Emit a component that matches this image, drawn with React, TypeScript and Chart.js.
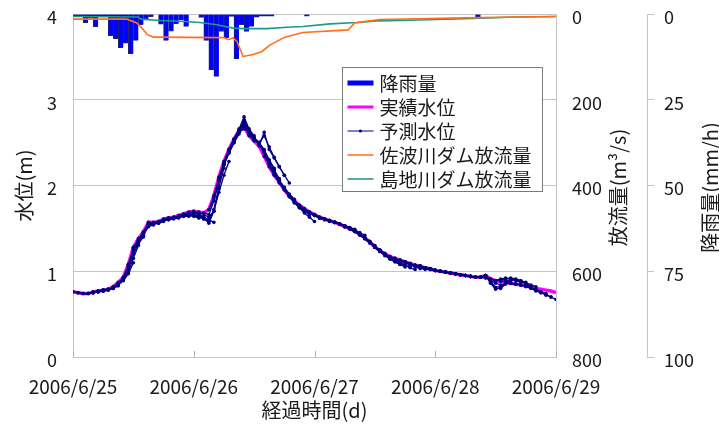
import React, { useEffect, useRef } from "react";
import { Chart, registerables } from "chart.js";

Chart.register(...registerables);

const FONT = '"Noto Sans CJK JP", "Noto Sans", sans-serif';
const TEXT = "#1a1a1a";
const GRID = "#c4c4c4";

// ---- labels ----
const xTickLabels = ["2006/6/25", "2006/6/26", "2006/6/27", "2006/6/28", "2006/6/29"];
const seriesNames = ["降雨量", "実績水位", "予測水位", "佐波川ダム放流量", "島地川ダム放流量"];
const xTitle = "経過時間(d)";
const levelTitle = "水位(m)";
const dischargeTitle = "放流量(m³/s)";
const rainTitle = "降雨量(mm/h)";

// ---- rainfall (mm/h), one bar per hour starting at 2006/6/25 0:00 ----
const rainfall = [
  0.7, 0.7, 2.5, 1.2, 3.7, 0.6, 0.6, 6.3, 7.2, 9.8, 8.5, 11.6, 7.7, 3.1, 1.7, 0.8,
  0, 3.0, 7.7, 5.0, 2.8, 1.7, 3.6, 0, 0, 1.0, 7.7, 16.3, 18.2, 5.1, 6.9, 0.7,
  13.0, 3.1, 5.1, 3.6, 0.9, 0.6, 0.6, 0.6, 0, 0, 0, 0, 0, 0, 0.6, 0,
  0, 0, 0, 0, 0, 0, 0, 0, 0, 0, 0, 0, 0, 0, 0, 0,
  0, 0, 0, 0, 0, 0, 0, 0, 0, 0, 0, 0, 0, 0, 0, 0,
  1.0, 0, 0, 0, 0, 0, 0, 0, 0, 0, 0, 0, 0, 0, 0, 0,
];

// ---- observed water level (m), hourly 0..96 ----
const actualLevel = [
  0.76, 0.75, 0.74, 0.74, 0.76, 0.77, 0.78, 0.79, 0.82, 0.87, 0.93, 1.08, 1.28, 1.38, 1.46, 1.57,
  1.57, 1.58, 1.61, 1.62, 1.63, 1.65, 1.67, 1.69, 1.70, 1.69, 1.68, 1.72, 1.88, 2.10, 2.28, 2.42,
  2.54, 2.64, 2.68, 2.58, 2.52, 2.46, 2.34, 2.22, 2.12, 2.04, 1.95, 1.88, 1.82, 1.77, 1.73, 1.69,
  1.66, 1.63, 1.61, 1.59, 1.57, 1.55, 1.52, 1.50, 1.47, 1.43, 1.39, 1.34, 1.28, 1.24, 1.20, 1.17,
  1.15, 1.13, 1.11, 1.09, 1.07, 1.06, 1.04, 1.03, 1.01, 1.00, 0.99, 0.98, 0.97, 0.96, 0.95, 0.94,
  0.93, 0.93, 0.95, 0.91, 0.89, 0.88, 0.87, 0.86, 0.85, 0.84, 0.83, 0.82, 0.80, 0.79, 0.78, 0.77,
  0.75,
];

// ---- forecast runs: start hour and hourly predicted levels (m) ----
const forecastStart = [
  0, 1, 2, 3, 4, 5, 6, 7, 8, 9, 10, 11, 12, 13, 14, 15, 16, 17, 18, 19, 20, 21, 22, 23, 24, 25,
  26, 27, 28, 29, 30, 31, 32, 33, 34, 35, 36, 37, 38, 39, 40, 41, 42, 43, 44, 45, 46, 47, 48, 49,
  50, 51, 52, 53, 54, 55, 56, 57, 58, 59, 60, 61, 62, 63, 64, 65, 66, 67, 68, 69, 70, 71, 72, 73,
  74, 75, 76, 77, 78, 79, 80, 81, 82, 83, 84, 85, 86, 87, 88, 89, 90,
];
const forecastLevels = [
  [0.76, 0.75, 0.74, 0.74, 0.75, 0.76, 0.77],
  [0.75, 0.74, 0.74, 0.75, 0.76, 0.77, 0.78],
  [0.74, 0.74, 0.75, 0.76, 0.77, 0.78, 0.80],
  [0.74, 0.75, 0.76, 0.77, 0.78, 0.80, 0.83],
  [0.76, 0.77, 0.78, 0.79, 0.81, 0.85, 0.90],
  [0.77, 0.78, 0.79, 0.81, 0.85, 0.90, 1.00],
  [0.78, 0.79, 0.81, 0.84, 0.89, 0.97, 1.10],
  [0.79, 0.81, 0.85, 0.90, 0.99, 1.15, 1.30],
  [0.82, 0.86, 0.91, 1.02, 1.20, 1.32, 1.40],
  [0.87, 0.92, 1.05, 1.24, 1.35, 1.44, 1.53],
  [0.93, 1.06, 1.24, 1.34, 1.42, 1.52, 1.54],
  [1.08, 1.26, 1.36, 1.45, 1.55, 1.55, 1.56],
  [1.28, 1.36, 1.44, 1.54, 1.55, 1.56, 1.58],
  [1.38, 1.45, 1.55, 1.56, 1.57, 1.59, 1.60],
  [1.46, 1.55, 1.56, 1.57, 1.60, 1.61, 1.62],
  [1.57, 1.56, 1.57, 1.59, 1.60, 1.61, 1.62],
  [1.57, 1.58, 1.60, 1.61, 1.62, 1.63, 1.64],
  [1.58, 1.60, 1.61, 1.62, 1.63, 1.64, 1.64],
  [1.61, 1.62, 1.63, 1.64, 1.65, 1.66, 1.66],
  [1.62, 1.63, 1.64, 1.65, 1.65, 1.64, 1.62],
  [1.63, 1.64, 1.65, 1.66, 1.65, 1.63, 1.61],
  [1.65, 1.66, 1.67, 1.66, 1.64, 1.61, 1.58],
  [1.67, 1.68, 1.68, 1.66, 1.63, 1.60, 1.57],
  [1.69, 1.69, 1.66, 1.62, 1.56, 1.70, 1.96],
  [1.70, 1.67, 1.62, 1.58, 1.72, 1.98, 2.20],
  [1.69, 1.66, 1.63, 1.70, 1.92, 2.12, 2.28],
  [1.68, 1.66, 1.82, 2.05, 2.24, 2.38, 2.50],
  [1.72, 1.86, 2.06, 2.24, 2.38, 2.50, 2.60],
  [1.88, 2.08, 2.26, 2.40, 2.52, 2.62, 2.66],
  [2.10, 2.26, 2.40, 2.52, 2.62, 2.72, 2.62],
  [2.28, 2.42, 2.54, 2.66, 2.80, 2.66, 2.58],
  [2.42, 2.54, 2.64, 2.76, 2.64, 2.56, 2.48],
  [2.54, 2.64, 2.74, 2.62, 2.56, 2.50, 2.40],
  [2.64, 2.70, 2.60, 2.54, 2.48, 2.38, 2.26],
  [2.68, 2.60, 2.55, 2.50, 2.42, 2.30, 2.20],
  [2.58, 2.53, 2.50, 2.40, 2.28, 2.18, 2.08],
  [2.52, 2.50, 2.58, 2.45, 2.33, 2.22, 2.12],
  [2.46, 2.62, 2.42, 2.32, 2.22, 2.12, 2.03],
  [2.34, 2.25, 2.15, 2.06, 1.98, 1.90, 1.84],
  [2.22, 2.13, 2.04, 1.96, 1.88, 1.81, 1.75],
  [2.12, 2.03, 1.95, 1.87, 1.80, 1.74, 1.69],
  [2.04, 1.96, 1.88, 1.81, 1.75, 1.70, 1.66],
  [1.95, 1.87, 1.80, 1.74, 1.68, 1.63, 1.58],
  [1.88, 1.82, 1.77, 1.72, 1.68, 1.65, 1.62],
  [1.82, 1.77, 1.72, 1.68, 1.65, 1.62, 1.60],
  [1.77, 1.72, 1.68, 1.65, 1.62, 1.60, 1.58],
  [1.73, 1.69, 1.66, 1.63, 1.61, 1.59, 1.57],
  [1.69, 1.66, 1.63, 1.61, 1.59, 1.57, 1.55],
  [1.66, 1.63, 1.61, 1.59, 1.57, 1.55, 1.53],
  [1.63, 1.61, 1.59, 1.57, 1.55, 1.53, 1.51],
  [1.61, 1.59, 1.57, 1.55, 1.53, 1.51, 1.49],
  [1.59, 1.57, 1.55, 1.52, 1.50, 1.47, 1.44],
  [1.57, 1.55, 1.53, 1.50, 1.48, 1.45, 1.42],
  [1.55, 1.52, 1.49, 1.46, 1.42, 1.38, 1.33],
  [1.52, 1.50, 1.47, 1.43, 1.39, 1.35, 1.30],
  [1.50, 1.47, 1.43, 1.38, 1.33, 1.28, 1.24],
  [1.47, 1.43, 1.39, 1.34, 1.29, 1.25, 1.21],
  [1.43, 1.39, 1.34, 1.28, 1.23, 1.19, 1.16],
  [1.39, 1.34, 1.28, 1.23, 1.19, 1.15, 1.12],
  [1.34, 1.28, 1.23, 1.18, 1.14, 1.11, 1.08],
  [1.28, 1.24, 1.19, 1.15, 1.11, 1.08, 1.05],
  [1.24, 1.20, 1.16, 1.13, 1.10, 1.07, 1.05],
  [1.20, 1.17, 1.13, 1.10, 1.07, 1.04, 1.02],
  [1.17, 1.15, 1.12, 1.10, 1.07, 1.05, 1.03],
  [1.15, 1.13, 1.11, 1.09, 1.06, 1.04, 1.02],
  [1.13, 1.11, 1.09, 1.07, 1.05, 1.03, 1.02],
  [1.11, 1.09, 1.07, 1.06, 1.04, 1.02, 1.01],
  [1.09, 1.07, 1.06, 1.04, 1.02, 1.01, 1.00],
  [1.07, 1.06, 1.04, 1.03, 1.01, 1.00, 0.99],
  [1.06, 1.04, 1.03, 1.01, 1.00, 0.99, 0.98],
  [1.04, 1.03, 1.01, 1.00, 0.99, 0.98, 0.97],
  [1.03, 1.01, 1.00, 0.99, 0.98, 0.97, 0.96],
  [1.01, 1.00, 0.99, 0.98, 0.97, 0.96, 0.95],
  [1.00, 0.99, 0.98, 0.97, 0.96, 0.95, 0.94],
  [0.99, 0.98, 0.97, 0.96, 0.95, 0.94, 0.93],
  [0.98, 0.97, 0.96, 0.95, 0.94, 0.93, 0.93],
  [0.97, 0.96, 0.95, 0.94, 0.93, 0.93, 0.92],
  [0.96, 0.95, 0.94, 0.93, 0.93, 0.94, 0.90],
  [0.95, 0.94, 0.93, 0.93, 0.94, 0.91, 0.89],
  [0.94, 0.93, 0.93, 0.95, 0.89, 0.86, 0.84],
  [0.93, 0.93, 0.95, 0.87, 0.80, 0.80, 0.85],
  [0.93, 0.95, 0.86, 0.79, 0.81, 0.86, 0.86],
  [0.95, 0.88, 0.81, 0.83, 0.86, 0.86, 0.85],
  [0.91, 0.89, 0.91, 0.92, 0.91, 0.89, 0.87],
  [0.89, 0.90, 0.91, 0.92, 0.91, 0.89, 0.86],
  [0.88, 0.89, 0.90, 0.90, 0.88, 0.85, 0.83],
  [0.87, 0.89, 0.90, 0.89, 0.87, 0.84, 0.82],
  [0.86, 0.85, 0.84, 0.82, 0.80, 0.77, 0.75],
  [0.85, 0.84, 0.83, 0.81, 0.78, 0.76, 0.74],
  [0.84, 0.83, 0.81, 0.78, 0.75, 0.72, 0.70],
  [0.83, 0.81, 0.79, 0.76, 0.73, 0.70, 0.67],
];

// ---- dam discharge (m3/s) ----
const sabaHours = [0, 10.7, 12.7, 13.7, 14.7, 15.3, 16, 30, 30.8, 31.8, 32.6, 33.8, 35.6, 37.5, 39.2, 42.1, 45.7, 54.7, 56, 59, 61, 78, 88, 96];
const sabaFlow = [12, 12, 21, 33, 47, 51, 54, 55, 60, 56, 64, 99, 95, 88, 72, 54, 43, 37, 21, 16, 13, 9, 7, 6];
const shimajiHours = [0, 13, 13.5, 17.3, 21.3, 25.2, 28.6, 31.8, 33.6, 38.6, 42.5, 45.7, 51.1, 56.4, 60.4, 65, 78, 88, 96];
const shimajiFlow = [6, 7, 12, 15, 17, 20, 25, 33, 34, 34, 31, 29, 23, 20, 16, 15, 11, 7, 6];

const COLORS = {
  rain: "#0000ff",
  rainEdge: "#22226a",
  actual: "#ff00ff",
  forecast: "#000080",
  saba: "#ff6f1a",
  shimaji: "#1a9a8c",
};

const legendItems = [
  { label: seriesNames[0], color: COLORS.rain, width: 5, dot: false },
  { label: seriesNames[1], color: COLORS.actual, width: 3, dot: false },
  { label: seriesNames[2], color: COLORS.forecast, width: 1, dot: true },
  { label: seriesNames[3], color: COLORS.saba, width: 1.5, dot: false },
  { label: seriesNames[4], color: "#5aaaa4", width: 2, dot: false },
];

const insideLegend = {
  id: "insideLegend",
  afterDraw(chart: any) {
    const { ctx, chartArea } = chart;
    const bx = Math.round(chartArea.left + 269) + 0.5;
    const by = Math.round(chartArea.top + 53) + 0.5;
    const bw = 200;
    const bh = 124;
    ctx.save();
    ctx.fillStyle = "#ffffff";
    ctx.fillRect(bx, by, bw, bh);
    ctx.strokeStyle = "#7a7a7a";
    ctx.lineWidth = 1;
    ctx.strokeRect(bx, by, bw, bh);
    ctx.font = `19px ${FONT}`;
    ctx.textBaseline = "middle";
    ctx.textAlign = "left";
    legendItems.forEach((it, i) => {
      const y = Math.round(by + 15 + i * 24);
      ctx.strokeStyle = it.color;
      ctx.lineWidth = it.width;
      ctx.beginPath();
      ctx.moveTo(bx + 5, y);
      ctx.lineTo(bx + 31, y);
      ctx.stroke();
      if (it.dot) {
        ctx.fillStyle = it.color;
        ctx.beginPath();
        ctx.arc(bx + 18, y, 1.6, 0, Math.PI * 2);
        ctx.fill();
      }
      ctx.fillStyle = TEXT;
      ctx.fillText(it.label, bx + 37, y + 1);
    });
    ctx.restore();
  },
};

const sideTitles = {
  id: "sideTitles",
  afterDraw(chart: any) {
    const { ctx, chartArea, scales } = chart;
    const cy = (chartArea.top + chartArea.bottom) / 2 + 2;
    const draw = (text: string, x: number) => {
      ctx.save();
      ctx.translate(x, cy);
      ctx.rotate(-Math.PI / 2);
      ctx.font = `20px ${FONT}`;
      ctx.fillStyle = TEXT;
      ctx.textAlign = "center";
      ctx.textBaseline = "middle";
      ctx.fillText(text, 0, 0);
      ctx.restore();
    };
    draw(dischargeTitle, scales.y1.right - 29);
    draw(rainTitle, scales.y2.right - 9);
  },
};

// small inward tick marks on the time axis
const innerTicks = {
  id: "innerTicks",
  afterDraw(chart: any) {
    const { ctx, chartArea, scales } = chart;
    ctx.save();
    ctx.strokeStyle = "#b0b0b0";
    ctx.lineWidth = 1;
    scales.x.ticks.forEach((t: any) => {
      const px = Math.round(scales.x.getPixelForValue(t.value)) + 0.5;
      ctx.beginPath();
      ctx.moveTo(px, chartArea.bottom);
      ctx.lineTo(px, chartArea.bottom - 6);
      ctx.stroke();
    });
    ctx.restore();
  },
};

export default function App() {
  const ref = useRef<HTMLCanvasElement>(null);

  useEffect(() => {
    if (!ref.current) return;

    const datasets: any[] = [];

    forecastStart.forEach((start, k) => {
      datasets.push({
        type: "line",
        label: seriesNames[2],
        data: forecastLevels[k].map((v, j) => ({ x: start + j, y: v })),
        yAxisID: "y",
        borderColor: COLORS.forecast,
        backgroundColor: COLORS.forecast,
        borderWidth: 1.3,
        pointRadius: 1.8,
        pointBorderWidth: 0,
        pointBackgroundColor: COLORS.forecast,
        tension: 0,
        order: 0,
      });
    });

    datasets.push({
      type: "line",
      label: seriesNames[1],
      data: actualLevel.map((v, i) => ({ x: i, y: v })),
      yAxisID: "y",
      borderColor: COLORS.actual,
      borderWidth: 3.5,
      pointRadius: 0,
      tension: 0,
      order: 1,
    });

    datasets.push({
      type: "line",
      label: seriesNames[3],
      data: sabaHours.map((h, i) => ({ x: h, y: sabaFlow[i] })),
      yAxisID: "y1",
      borderColor: COLORS.saba,
      borderWidth: 1.6,
      pointRadius: 0,
      tension: 0,
      order: 2,
    });

    datasets.push({
      type: "line",
      label: seriesNames[4],
      data: shimajiHours.map((h, i) => ({ x: h, y: shimajiFlow[i] })),
      yAxisID: "y1",
      borderColor: COLORS.shimaji,
      borderWidth: 1.6,
      pointRadius: 0,
      tension: 0,
      order: 3,
    });

    datasets.push({
      type: "bar",
      label: seriesNames[0],
      data: rainfall.map((v, i) => ({ x: i + 0.5, y: v })),
      yAxisID: "y2",
      backgroundColor: COLORS.rain,
      borderColor: COLORS.rainEdge,
      borderWidth: { left: 1, right: 0, top: 0, bottom: 1 },
      borderSkipped: false,
      barPercentage: 1,
      categoryPercentage: 1,
      order: 4,
    });

    const tickFont = { family: FONT, size: 18 };
    const hidden = "rgba(0,0,0,0)";

    const chart = new Chart(ref.current, {
      type: "line",
      data: { datasets },
      plugins: [insideLegend, sideTitles, innerTicks],
      options: {
        animation: false,
        responsive: false,
        maintainAspectRatio: false,
        events: [],
        layout: { padding: { top: 14, left: 0, right: 0, bottom: 0 } },
        plugins: {
          legend: { display: false },
          tooltip: { enabled: false },
          title: { display: false },
        },
        scales: {
          x: {
            type: "linear",
            min: 0,
            max: 96,
            offset: false,
            grid: { drawOnChartArea: false, drawTicks: true, tickLength: 18, tickColor: hidden },
            border: { color: GRID },
            ticks: {
              stepSize: 24,
              autoSkip: false,
              maxRotation: 0,
              padding: 0,
              color: TEXT,
              font: { family: FONT, size: 19 },
              callback: (v: any) => (Number(v) % 24 === 0 ? xTickLabels[Number(v) / 24] : ""),
            },
            title: {
              display: true,
              text: xTitle,
              color: TEXT,
              font: { family: FONT, size: 20 },
              padding: { top: 0, bottom: 4 },
            },
            afterFit: (s: any) => {
              s.height = 69;
            },
          },
          y: {
            type: "linear",
            position: "left",
            min: 0,
            max: 4,
            grid: { color: GRID, drawTicks: true, tickLength: 16, tickColor: hidden },
            border: { color: GRID },
            ticks: { stepSize: 1, padding: 0, labelOffset: 3, color: TEXT, font: tickFont },
            title: {
              display: true,
              text: levelTitle,
              color: TEXT,
              font: { family: FONT, size: 20 },
              padding: { top: 12, bottom: 0 },
            },
            afterFit: (s: any) => {
              s.width = 73;
            },
          },
          y1: {
            type: "linear",
            position: "right",
            reverse: true,
            min: 0,
            max: 800,
            grid: { drawOnChartArea: false, drawTicks: true, tickLength: 16, tickColor: hidden },
            border: { color: GRID },
            ticks: { stepSize: 200, padding: 0, labelOffset: 3, color: TEXT, font: tickFont },
            afterFit: (s: any) => {
              s.width = 91;
            },
          },
          y2: {
            type: "linear",
            position: "right",
            reverse: true,
            min: 0,
            max: 100,
            grid: {
              drawOnChartArea: false,
              drawTicks: true,
              tickLength: 17,
              tickColor: GRID,
              tickBorderDash: [6, 40],
            },
            border: { color: GRID },
            ticks: { stepSize: 25, padding: 0, labelOffset: 3, color: TEXT, font: tickFont },
            afterFit: (s: any) => {
              s.width = 72;
            },
          },
        },
      } as any,
    });

    return () => chart.destroy();
  }, []);

  return (
    <div style={{ position: "fixed", left: 0, top: 0, width: 719, height: 426, background: "#ffffff" }}>
      <canvas ref={ref} width={719} height={426} style={{ display: "block", width: 719, height: 426 }} />
    </div>
  );
}
